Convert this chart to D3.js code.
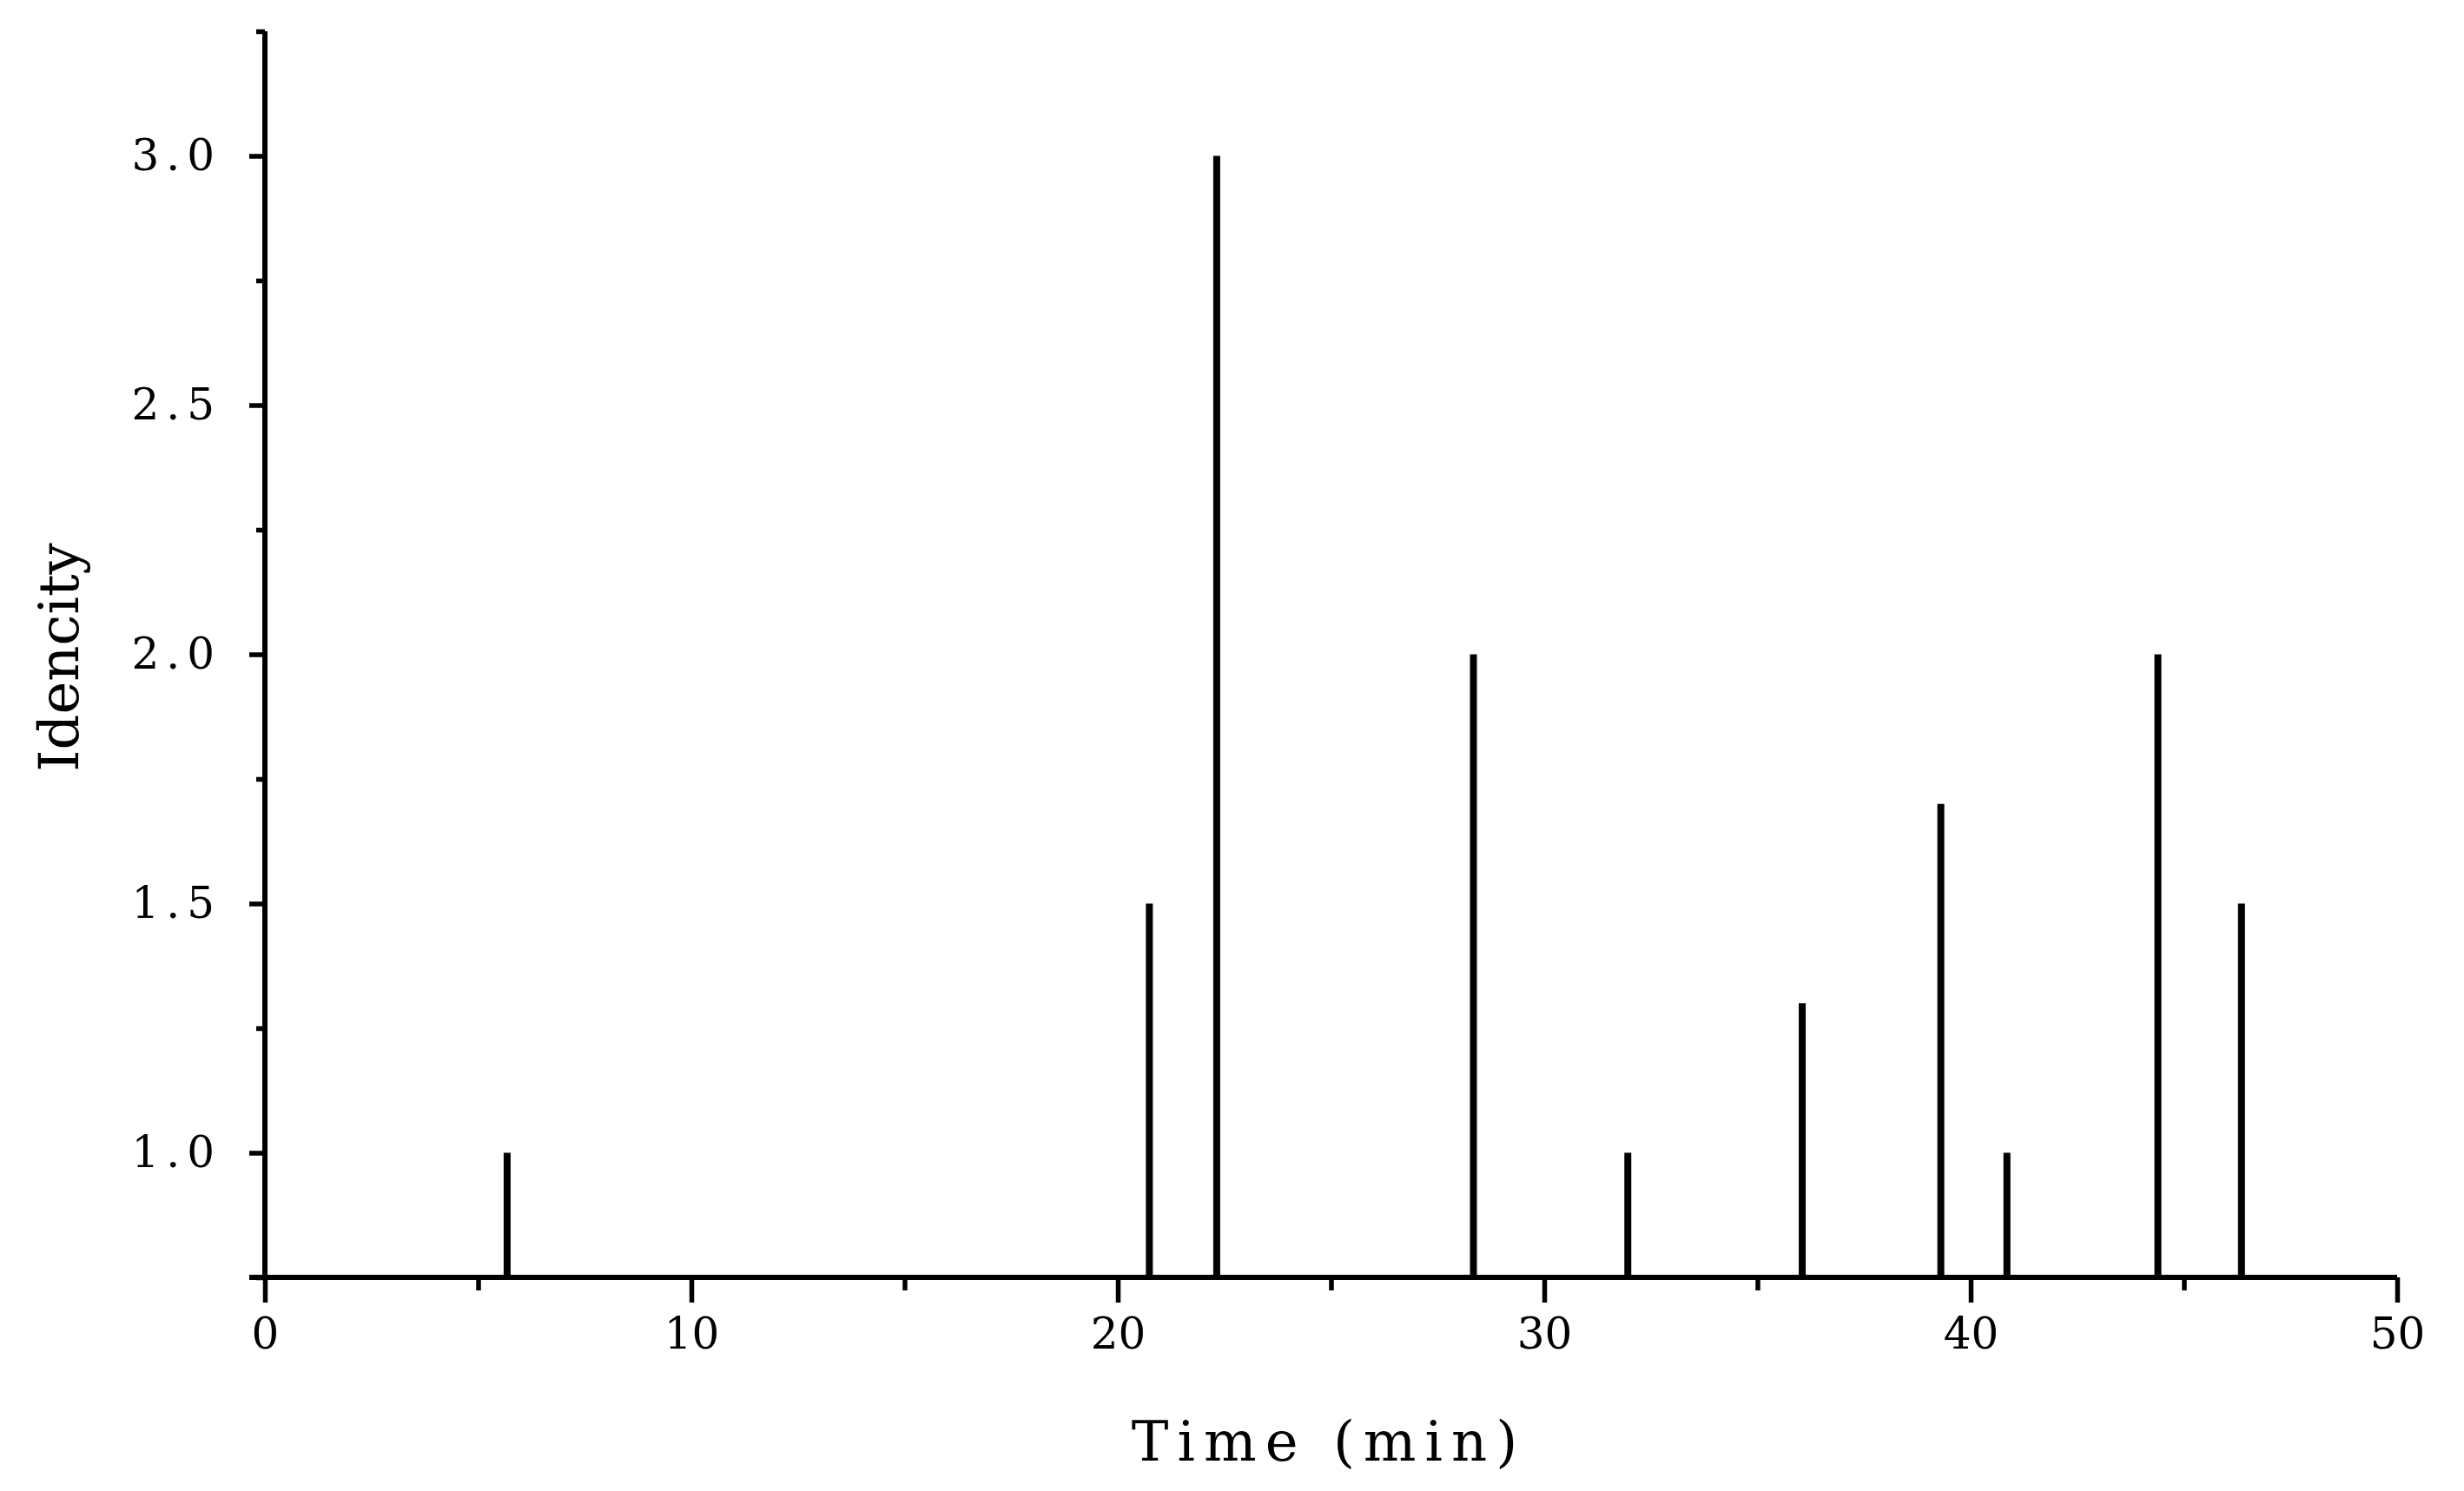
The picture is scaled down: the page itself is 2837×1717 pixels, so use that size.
<!DOCTYPE html><html><head><meta charset="utf-8"><script src="https://cdn.jsdelivr.net/npm/d3@7"></script>
<style>body{margin:0;background:#fff}</style></head><body><svg id="c" width="2837" height="1717"></svg>
<script>
const times=[5.68,20.74,22.32,28.34,31.96,36.05,39.3,40.85,44.39,46.35];
const values=[1.0,1.5,3.0,2.0,1.0,1.3,1.7,1.0,2.0,1.5];
const xTicks=[0,10,20,30,40,50];
const yTicks=[1.0,1.5,2.0,2.5,3.0];
const svg=d3.select("#c");
const L=305,R=2760,T=36,B=1471;
const x=d3.scaleLinear().domain([0,50]).range([L,R]);
const y=d3.scaleLinear().domain([0.75,3.25]).range([B,T]);
const font="'DejaVu Serif', serif";
svg.selectAll("line.p").data(times).join("line").attr("x1",d=>x(d)).attr("x2",d=>x(d))
 .attr("y1",B).attr("y2",(d,i)=>y(values[i])).attr("stroke","#000").attr("stroke-width",8);
const xa=svg.append("g").attr("transform",`translate(0,${B})`).call(d3.axisBottom(x).tickValues(xTicks).tickFormat(d3.format("d")).tickSize(29).tickSizeOuter(0));
xa.select(".domain").remove();
svg.append("line").attr("x1",L-18).attr("x2",R).attr("y1",B).attr("y2",B).attr("stroke","#000").attr("stroke-width",6);
xa.selectAll("line").attr("stroke-width",5.5);
xa.selectAll("text").attr("font-family",font).attr("font-size",50).attr("dy","1.0em").attr("fill","#000");
svg.append("g").attr("transform",`translate(0,${B})`).call(d3.axisBottom(x).tickValues([5,15,25,35,45]).tickSize(15).tickFormat("")).call(g=>g.select(".domain").remove()).selectAll("line").attr("stroke-width",5.5);
const ya=svg.append("g").attr("transform",`translate(${L},0)`).call(d3.axisLeft(y).tickValues(yTicks).tickFormat(d3.format(".1f")).tickSize(18).tickSizeOuter(0));
ya.select(".domain").remove();
svg.append("line").attr("x1",L).attr("x2",L).attr("y1",T).attr("y2",B).attr("stroke","#000").attr("stroke-width",6);
ya.selectAll("line").attr("stroke-width",5.5);
ya.selectAll("text").attr("font-family",font).attr("font-size",50).attr("x",-50).attr("letter-spacing",8).attr("fill","#000");
svg.append("g").attr("transform",`translate(${L},0)`).call(d3.axisLeft(y).tickValues([0.75,1.25,1.75,2.25,2.75,3.25]).tickSize(10).tickFormat("")).call(g=>g.select(".domain").remove()).selectAll("line").attr("stroke-width",5.5);
svg.append("text").attr("x",1530).attr("y",1682).attr("text-anchor","middle").attr("font-family",font).attr("font-size",64).attr("letter-spacing",10).text("Time (min)");
svg.append("text").attr("transform","translate(90,757) rotate(-90)").attr("text-anchor","middle").attr("font-family",font).attr("font-size",64).text("Idencity");
</script></body></html>
